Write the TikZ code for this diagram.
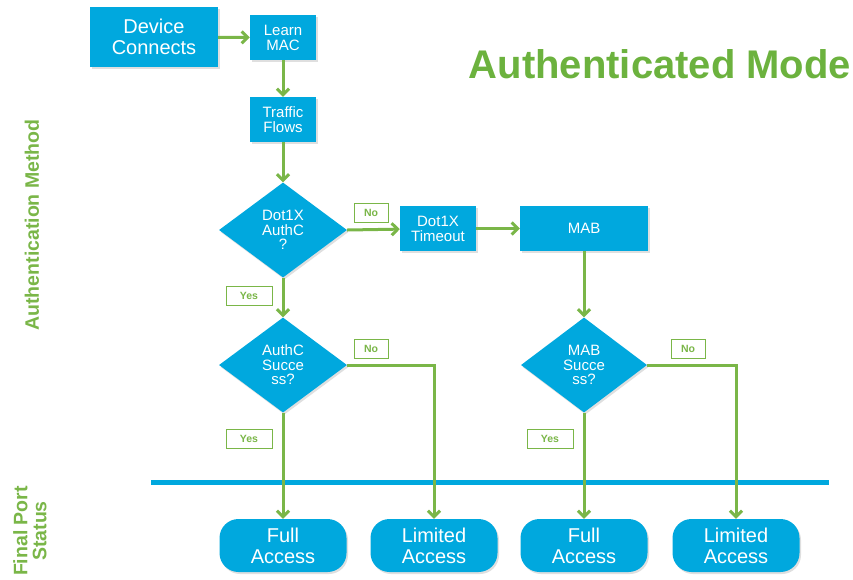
\documentclass[tikz,border=0pt]{standalone}
\usepackage{fontspec}
\setmainfont{Liberation Sans}
\usetikzlibrary{shapes.geometric,arrows.meta,shadows}
\definecolor{cblue}{RGB}{0,168,222}
\definecolor{cgreen}{RGB}{122,182,72}
\definecolor{tgreen}{RGB}{108,178,62}
\begin{document}
\begin{tikzpicture}[x=1pt,y=-1pt,
  shad/.style={drop shadow={shadow xshift=1.5pt,shadow yshift=-2pt,opacity=0.25}},
  box/.style={rectangle,fill=cblue,text=white,align=center,inner sep=0pt,shad,font=\fontsize{15}{15}\selectfont},
  dia/.style={diamond,fill=cblue,text=white,align=center,inner sep=0pt,shad,minimum width=128pt,minimum height=95pt,font=\fontsize{15}{14.5}\selectfont},
  term/.style={rectangle,rounded corners=19pt,fill=cblue,text=white,align=center,inner sep=0pt,shad,minimum width=127pt,minimum height=53pt,font=\fontsize{20}{21}\selectfont},
  lab/.style={draw=cgreen,line width=1pt,fill=white,text=cgreen,inner sep=0pt,minimum width=34pt,minimum height=19pt,font=\bfseries\fontsize{10.5}{11}\selectfont},
  ylab/.style={lab,minimum width=46pt},
  conn/.style={draw=cgreen,line width=3pt,-{Straight Barb[length=6pt,width=12pt,line width=3pt]}},
  plain/.style={draw=cgreen,line width=3pt}]
\useasboundingbox (0,0) rectangle (853,579);

% boxes
\node[box,minimum width=128pt,minimum height=60pt,font=\fontsize{20}{20.5}\selectfont] (dev) at (154,37) {Device\\Connects};
\node[box,minimum width=66pt,minimum height=45pt] (learn) at (283,37.5) {Learn\\MAC};
\node[box,minimum width=66pt,minimum height=45pt] (traffic) at (283,119.5) {Traffic\\Flows};
\node[dia] (d1) at (283,230) {Dot1X\\AuthC\\?};
\node[box,minimum width=76pt,minimum height=45pt] (timeout) at (438,228.5) {Dot1X\\Timeout};
\node[box,minimum width=128pt,minimum height=45pt] (mab) at (584,228.5) {MAB};
\node[dia] (d2) at (283,365) {AuthC\\Succe\\ss?};
\node[dia,minimum width=126pt] (d3) at (584,365) {MAB\\Succe\\ss?};

% blue bar
\coordinate (barL) at (151,482);
\coordinate (barR) at (829,482);
\draw[cblue,line width=5pt] (barL) -- (barR);

% terminals
\node[term] (f1) at (283,545.5) {Full\\Access};
\node[term] (l1) at (434,545.5) {Limited\\Access};
\node[term] (f2) at (584,545.5) {Full\\Access};
\node[term] (l2) at (736,545.5) {Limited\\Access};

% connectors
\draw[conn] (dev) -- (learn);
\draw[conn] (learn) -- (traffic);
\draw[conn] (traffic) -- (d1.north);
\draw[conn] (d1.east) -- (timeout);
\draw[conn] (timeout) -- (mab);
\draw[conn] (d1.south) -- (d2.north);
\draw[conn] (mab) -- (d3.north);
\draw[conn] (d2.south) -- (f1.north);
\draw[conn] (d3.south) -- (f2.north);
\draw[conn] (d2.east) -| (l1.north);
\draw[conn] (d3.east) -| (l2.north);

% labels
\node[lab] (no1) at (371,212.5) {No};
\node[ylab] (yes1) at (249,296) {Yes};
\node[lab] (no2) at (371,348.5) {No};
\node[ylab] (yes2) at (249,439) {Yes};
\node[lab] (no3) at (688,348.5) {No};
\node[ylab] (yes3) at (550,439) {Yes};

% titles
\node[text=tgreen,font=\bfseries\fontsize{40}{44}\selectfont,inner sep=0pt] (title) at (660,64) {Authenticated Mode};
\node[text=cgreen,font=\bfseries\fontsize{19.5}{20}\selectfont,rotate=90,inner sep=0pt] (am) at (32,225) {Authentication Method};
\node[text=cgreen,font=\bfseries\fontsize{19.5}{19}\selectfont,rotate=90,align=center,inner sep=0pt] (fps) at (30,531) {Final Port\\Status};
\end{tikzpicture}
\end{document}
